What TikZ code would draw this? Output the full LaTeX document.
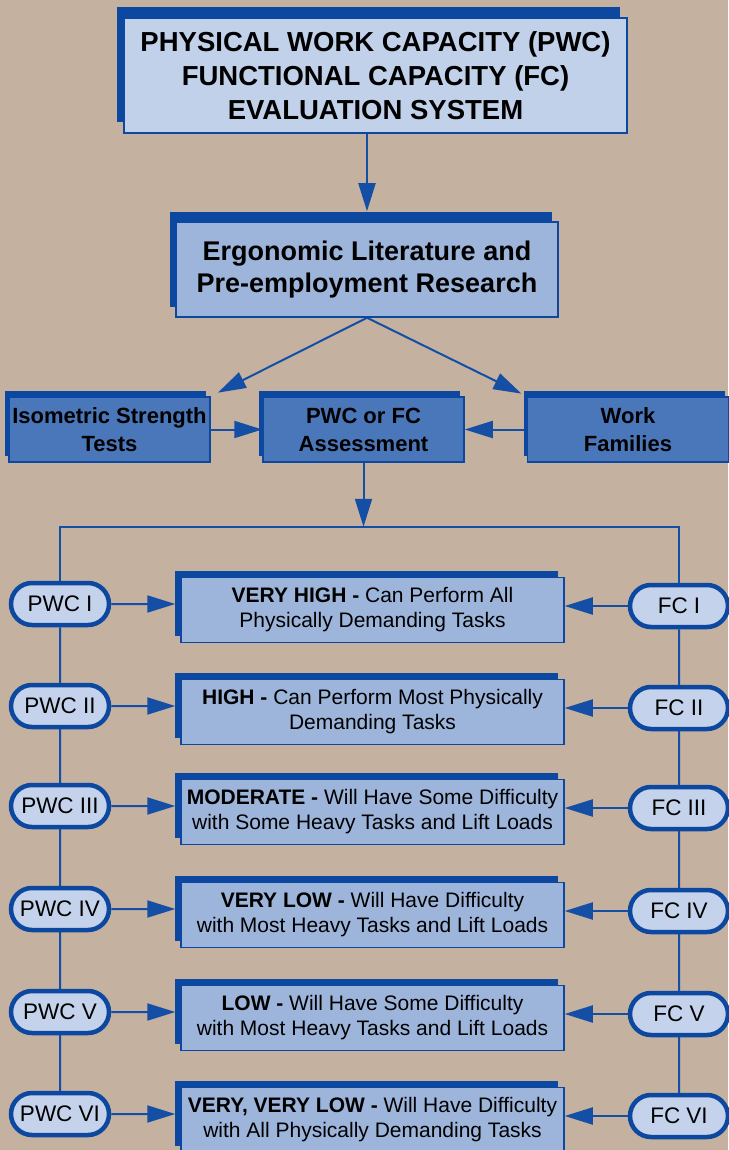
\documentclass[tikz,border=0pt]{standalone}
\usepackage{fontspec}
\setmainfont{Liberation Sans}
\usetikzlibrary{positioning,shapes.misc,shadows,backgrounds,arrows.meta}
\definecolor{tanbg}{RGB}{196,177,160}
\definecolor{boxdark}{RGB}{12,72,160}
\definecolor{linkblue}{RGB}{20,78,165}
\definecolor{paleblue}{RGB}{194,209,234}
\definecolor{midblue}{RGB}{157,181,219}
\definecolor{deepblue}{RGB}{74,119,186}
\definecolor{pillfill}{RGB}{196,211,235}
\tikzset{>={Triangle[length=28pt,width=17pt]}}
\tikzset{
  blockbox/.style={draw=boxdark, line width=1.5pt, align=center, inner sep=2pt},
  titlebox/.style={blockbox, fill=paleblue, minimum width=503pt, minimum height=115pt,
    font=\fontsize{27.5}{34}\selectfont\bfseries,
    general shadow={fill=boxdark, shadow xshift=-7.5pt, shadow yshift=11pt}},
  sourcebox/.style={blockbox, fill=midblue, minimum width=382pt, minimum height=95pt,
    font=\fontsize{27}{32}\selectfont\bfseries,
    general shadow={fill=boxdark, shadow xshift=-6pt, shadow yshift=10pt}},
  inputbox/.style={blockbox, fill=deepblue, minimum width=201pt, minimum height=65pt,
    font=\fontsize{22}{28}\selectfont\bfseries,
    general shadow={fill=boxdark, shadow xshift=-4pt, shadow yshift=6pt}},
  levelbox/.style={blockbox, fill=midblue, minimum width=383pt, minimum height=65pt,
    font=\fontsize{21}{25}\selectfont,
    general shadow={fill=boxdark, shadow xshift=-6pt, shadow yshift=7pt}},
  pill/.style={rounded rectangle, draw=boxdark, line width=4.5pt, fill=pillfill,
    minimum width=100pt, minimum height=42pt, inner sep=1pt,
    font=\fontsize{22.5}{26}\selectfont},
  conn/.style={draw=linkblue, line width=2pt}
}

\begin{document}
\begin{tikzpicture}[x=1pt,y=-1pt]
\useasboundingbox (0,0) rectangle (728,1150);
\node[titlebox] (title) at (375.5,75.5) {PHYSICAL WORK CAPACITY (PWC)\\FUNCTIONAL CAPACITY (FC)\\EVALUATION SYSTEM};
\node[sourcebox] (ergo) at (367,269.5) {Ergonomic Literature and\\Pre-employment Research};
\node[inputbox] (iso) at (109.5,429.5) {Isometric Strength\\Tests};
\node[inputbox] (assess) at (363.5,429.5) {PWC or FC\\Assessment};
\node[inputbox] (work) at (628,429.5) {Work\\Families};
\path (assess.south) ++(0,64) coordinate (fork);
\foreach \i/\r/\y/\txt in {
  1/I/610/{\textbf{VERY HIGH -} Can Perform All\\Physically Demanding Tasks},
  2/II/712/{\textbf{HIGH -} Can Perform Most Physically\\Demanding Tasks},
  3/III/812/{\textbf{MODERATE -} Will Have Some Difficulty\\with Some Heavy Tasks and Lift Loads},
  4/IV/915/{\textbf{VERY LOW -} Will Have Difficulty\\with Most Heavy Tasks and Lift Loads},
  5/V/1018/{\textbf{LOW -} Will Have Some Difficulty\\with Most Heavy Tasks and Lift Loads},
  6/VI/1120/{\textbf{VERY, VERY LOW -} Will Have Difficulty\\with All Physically Demanding Tasks}}{
  \node[levelbox] (lvl\i) at (372.5,\y) {\txt};
  \node[pill] (pwc\i) at (60,\y-6) {PWC \r};
  \node[pill] (fc\i) at (679,\y-4) {FC \r};
}
\begin{scope}[on background layer]
\fill[tanbg] (0,0) rectangle (728,1150);
\draw[conn,->,shorten >=10pt] (ergo.north |- title.south) -- (ergo.north);
\draw[conn,->,shorten >=8pt] (ergo.south) -- (iso.north east);
\draw[conn,->,shorten >=6pt] (ergo.south) -- (work.north west);
\draw[conn,->] (iso.east) -- (assess.west);
\draw[conn,->] (work.west) -- (assess.east);
\draw[conn,->] (assess.south) -- (fork);
\draw[conn] (pwc1) |- (fork) -| (fc1);
\draw[conn] (pwc1) -- (pwc6);
\draw[conn] (fc1) -- (fc6);
\foreach \i in {1,...,6}{
  \draw[conn,->,shorten >=5pt] (pwc\i) -- (pwc\i -| lvl\i.west);
  \draw[conn,->] (fc\i) -- (fc\i -| lvl\i.east);
}
\end{scope}
\end{tikzpicture}
\end{document}
